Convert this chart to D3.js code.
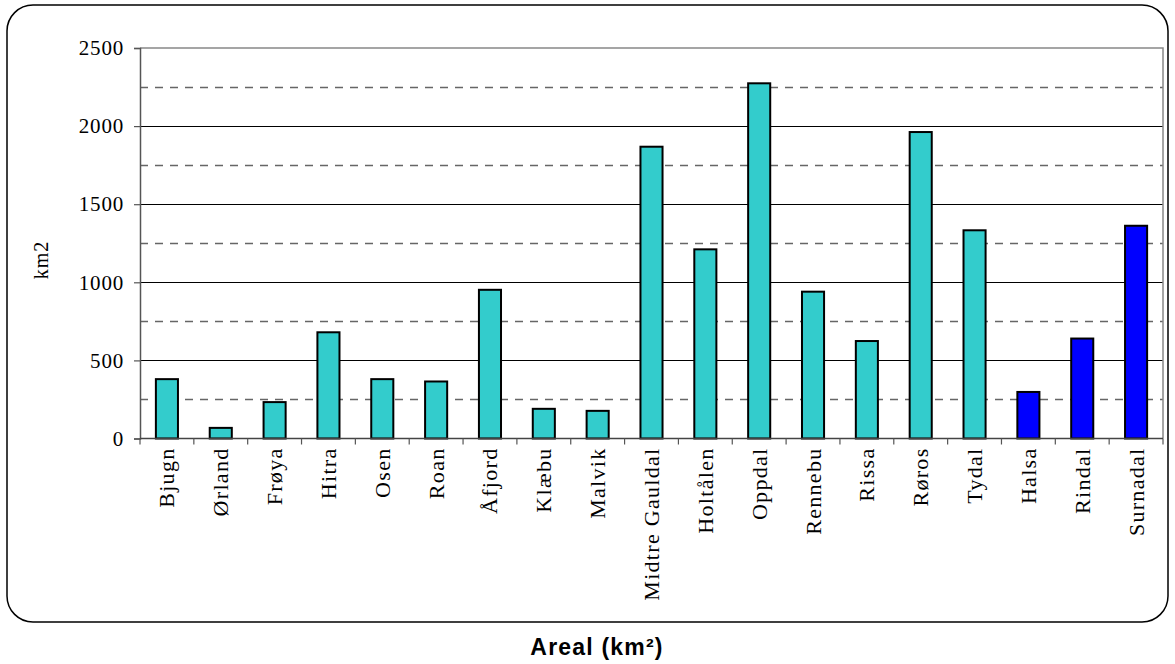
<!DOCTYPE html>
<html>
<head>
<meta charset="utf-8">
<script src="https://cdn.jsdelivr.net/npm/d3@7"></script>
<style>
  html, body { margin: 0; padding: 0; background: #fff; }
  svg { display: block; }
</style>
</head>
<body>
<svg id="chart" width="1175" height="664"></svg>
<script>
// Municipalities and their land area (km2)
const municipalities = ["Bjugn", "Ørland", "Frøya", "Hitra", "Osen", "Roan", "Åfjord", "Klæbu", "Malvik",
  "Midtre Gauldal", "Holtålen", "Oppdal", "Rennebu", "Rissa", "Røros", "Tydal", "Halsa", "Rindal", "Surnadal"];
const areaKm2 = [380, 68, 233, 680, 380, 365, 952, 190, 177,
  1868, 1211, 2274, 940, 624, 1962, 1333, 298, 640, 1362];
// Group: first 16 in one colour, last three in another
const group = ["a","a","a","a","a","a","a","a","a","a","a","a","a","a","a","a","b","b","b"];
const majorTicks = [0, 500, 1000, 1500, 2000, 2500];
const minorLines = [250, 750, 1250, 1750, 2250];

const colors = { a: "#33CCCC", b: "#0000FF" };

const svg = d3.select("#chart");
const plotLeft = 140, plotRight = 1163, plotTop = 48, plotBottom = 438.5;
const serif = "'Liberation Serif', 'Times New Roman', serif";

// Outer rounded frame
svg.append("rect")
  .attr("x", 7).attr("y", 5).attr("width", 1161).attr("height", 617)
  .attr("rx", 26).attr("ry", 26)
  .attr("fill", "#fff").attr("stroke", "#000").attr("stroke-width", 1.5);

const x = d3.scaleBand().domain(municipalities).range([plotLeft, plotRight]).paddingInner(0.59).paddingOuter(0.295);
const xTicks = d3.scaleBand().domain(municipalities).range([plotLeft, plotRight]);
const y = d3.scaleLinear().domain([0, 2500]).range([plotBottom, plotTop]);

// Dashed intermediate gridlines
svg.append("g").selectAll("line").data(minorLines).join("line")
  .attr("x1", plotLeft).attr("x2", plotRight)
  .attr("y1", d => Math.round(y(d)) + 0.5).attr("y2", d => Math.round(y(d)) + 0.5)
  .attr("stroke", "#666").attr("stroke-width", 1.3).attr("stroke-dasharray", "8,7");

// Solid gridlines
svg.append("g").selectAll("line").data(majorTicks.filter(d => d > 0 && d < 2500)).join("line")
  .attr("x1", plotLeft).attr("x2", plotRight)
  .attr("y1", d => Math.round(y(d)) + 0.5).attr("y2", d => Math.round(y(d)) + 0.5)
  .attr("stroke", "#000").attr("stroke-width", 1);

// Plot-area border (top and right)
svg.append("path")
  .attr("d", `M${plotLeft},${plotTop}H${plotRight}V${plotBottom}`)
  .attr("fill", "none").attr("stroke", "#888").attr("stroke-width", 1.5);

// Bars
svg.append("g").selectAll("rect").data(municipalities).join("rect")
  .attr("x", d => x(d))
  .attr("y", (d, i) => y(areaKm2[i]))
  .attr("width", x.bandwidth())
  .attr("height", (d, i) => y(0) - y(areaKm2[i]))
  .attr("fill", (d, i) => colors[group[i]])
  .attr("stroke", "#000").attr("stroke-width", 2);

// Y axis
const yAxis = svg.append("g").attr("transform", `translate(${plotLeft},0)`)
  .call(d3.axisLeft(y).tickValues(majorTicks).tickSize(6).tickPadding(10).tickFormat(d3.format("d")));
yAxis.select(".domain").attr("stroke", "#555").attr("stroke-width", 1.5);
yAxis.selectAll(".tick line").attr("stroke", "#555").attr("stroke-width", 1.2);
yAxis.selectAll("text")
  .attr("font-family", serif)
  .attr("font-size", 21).attr("letter-spacing", 0.8).attr("fill", "#000");

// X axis with ticks at the band boundaries
const xAxis = svg.append("g").attr("transform", `translate(0,${plotBottom})`);
xAxis.append("line").attr("x1", plotLeft).attr("x2", plotRight).attr("y1", 0).attr("y2", 0)
  .attr("stroke", "#444").attr("stroke-width", 1.5);
xAxis.selectAll("line.tk").data(municipalities.concat(["__end"])).join("line").attr("class", "tk")
  .attr("x1", (d, i) => plotLeft + i * xTicks.step()).attr("x2", (d, i) => plotLeft + i * xTicks.step())
  .attr("y1", 0).attr("y2", 6).attr("stroke", "#555").attr("stroke-width", 1.2);
xAxis.selectAll("text").data(municipalities).join("text")
  .attr("transform", d => `translate(${xTicks(d) + xTicks.bandwidth() / 2 + 7.5},9) rotate(-90)`)
  .attr("text-anchor", "end")
  .attr("font-family", serif)
  .attr("font-size", 22).attr("letter-spacing", 1.3).attr("fill", "#000")
  .text(d => d);

// Y axis title
svg.append("text")
  .attr("transform", `translate(48,260) rotate(-90)`)
  .attr("text-anchor", "middle")
  .attr("font-family", serif)
  .attr("font-size", 20).attr("letter-spacing", 1)
  .text("km2");

// Chart title below the frame
svg.append("text")
  .attr("x", 597).attr("y", 655)
  .attr("text-anchor", "middle")
  .attr("font-family", "'Liberation Sans', Arial, sans-serif")
  .attr("font-weight", "bold").attr("font-size", 23).attr("letter-spacing", 1.2)
  .text("Areal (km²)");
</script>
</body>
</html>
